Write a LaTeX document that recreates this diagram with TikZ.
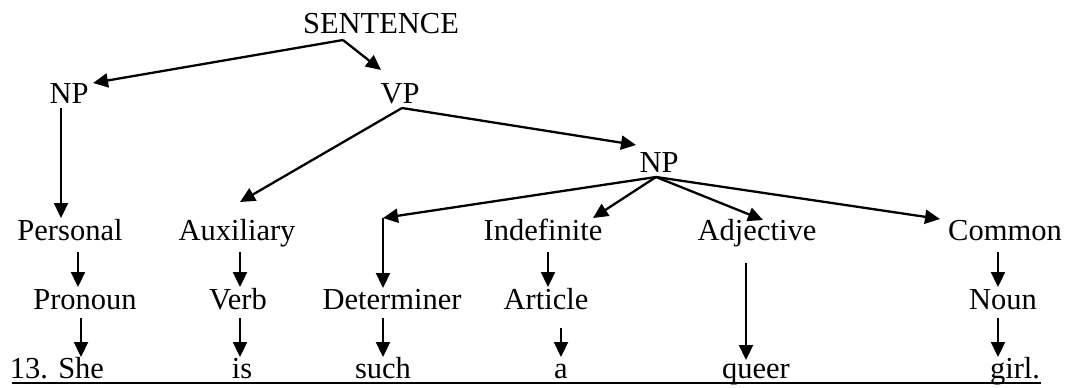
\documentclass[tikz,border=0pt]{standalone}
\usepackage{fontspec}
\setmainfont{Liberation Serif}
\usetikzlibrary{arrows.meta}
\begin{document}
\begin{tikzpicture}[x=1pt,y=-1pt,
  lbl/.style={inner sep=0pt,anchor=base,font=\fontsize{30.5}{36}\selectfont},
  arr/.style={line width=2.3pt,-{Triangle[length=15pt,width=14pt]}},
  seg/.style={line width=2.3pt}]
\useasboundingbox (0,0) rectangle (1087,388);
% tree labels
\node[lbl] (S)   at (381,34)  {SENTENCE};
\node[lbl] (NPa) at (69,103)  {NP};
\node[lbl] (VP)  at (400,103) {VP};
\node[lbl] (NPb) at (659,172) {NP};
% first row of word classes
\node[lbl] (pers) at (70,240)   {Personal};
\node[lbl] (aux)  at (237,240)  {Auxiliary};
\node[lbl] (ind)  at (543,240)  {Indefinite};
\node[lbl] (adj)  at (757,240)  {Adjective};
\node[lbl] (com)  at (1005,240) {Common};
% second row of word classes
\node[lbl] (pron) at (85,309)   {Pronoun};
\node[lbl] (verb) at (238,309)  {Verb};
\node[lbl] (det)  at (392,309)  {Determiner};
\node[lbl] (art)  at (546,309)  {Article};
\node[lbl] (noun) at (1003,309) {Noun};
% the sentence
\node[lbl] (she)   at (57,378)   {13. She};
\node[lbl] (is)    at (242,378)  {is};
\node[lbl] (such)  at (383,378)  {such};
\node[lbl] (a)     at (561,378)  {a};
\node[lbl] (queer) at (756,378)  {queer};
\node[lbl] (girl)  at (1015,378) {girl.};
\draw[seg] ([shift={(-45,5)}]she.base) -- ([shift={(26,5)}]girl.base);
% branches
\draw[arr] ([shift={(-38,6)}]S.base) -- ([shift={(24,-20)}]NPa.base);
\draw[arr] ([shift={(-38,6)}]S.base) -- ([shift={(-19,-33)}]VP.base);
\draw[arr] ([shift={(-8,5)}]NPa.base) -- ([shift={(-9,-22)}]pers.base);
\draw[arr] ([shift={(2,5)}]VP.base) -- ([shift={(3,-38)}]aux.base);
\draw[arr] ([shift={(2,5)}]VP.base) -- ([shift={(-23,-27)}]NPb.base);
\coordinate (corner) at ([shift={(-9,-91)}]det.base);
\draw[arr] ([shift={(-3,5)}]NPb.base) -- (corner);
\draw[arr] (corner) -- ([shift={(-9,-21)}]det.base);
\draw[arr] ([shift={(-3,5)}]NPb.base) -- ([shift={(50,-22)}]ind.base);
\draw[arr] ([shift={(-3,5)}]NPb.base) -- ([shift={(6,-20)}]adj.base);
\draw[arr] ([shift={(-3,5)}]NPb.base) -- ([shift={(-65,-21)}]com.base);
% first row to second row
\draw[arr] ([shift={(8,12)}]pers.base) -- ([shift={(-7,-22)}]pron.base);
\draw[arr] ([shift={(3,12)}]aux.base) -- ([shift={(2,-22)}]verb.base);
\draw[arr] ([shift={(5,12)}]ind.base) -- ([shift={(2,-22)}]art.base);
\draw[arr] ([shift={(-11,23)}]adj.base) -- ([shift={(-10,-18)}]queer.base);
\draw[arr] ([shift={(-7,12)}]com.base) -- ([shift={(-5,-22)}]noun.base);
% second row to the words
\draw[arr] ([shift={(-4,9)}]pron.base) -- ([shift={(24,-21)}]she.base);
\draw[arr] ([shift={(2,9)}]verb.base) -- ([shift={(-2,-21)}]is.base);
\draw[arr] ([shift={(-9,9)}]det.base) -- ([shift={(0,-21)}]such.base);
\draw[arr] ([shift={(15,19)}]art.base) -- ([shift={(0,-21)}]a.base);
\draw[arr] ([shift={(-5,9)}]noun.base) -- ([shift={(-17,-21)}]girl.base);
\end{tikzpicture}
\end{document}
